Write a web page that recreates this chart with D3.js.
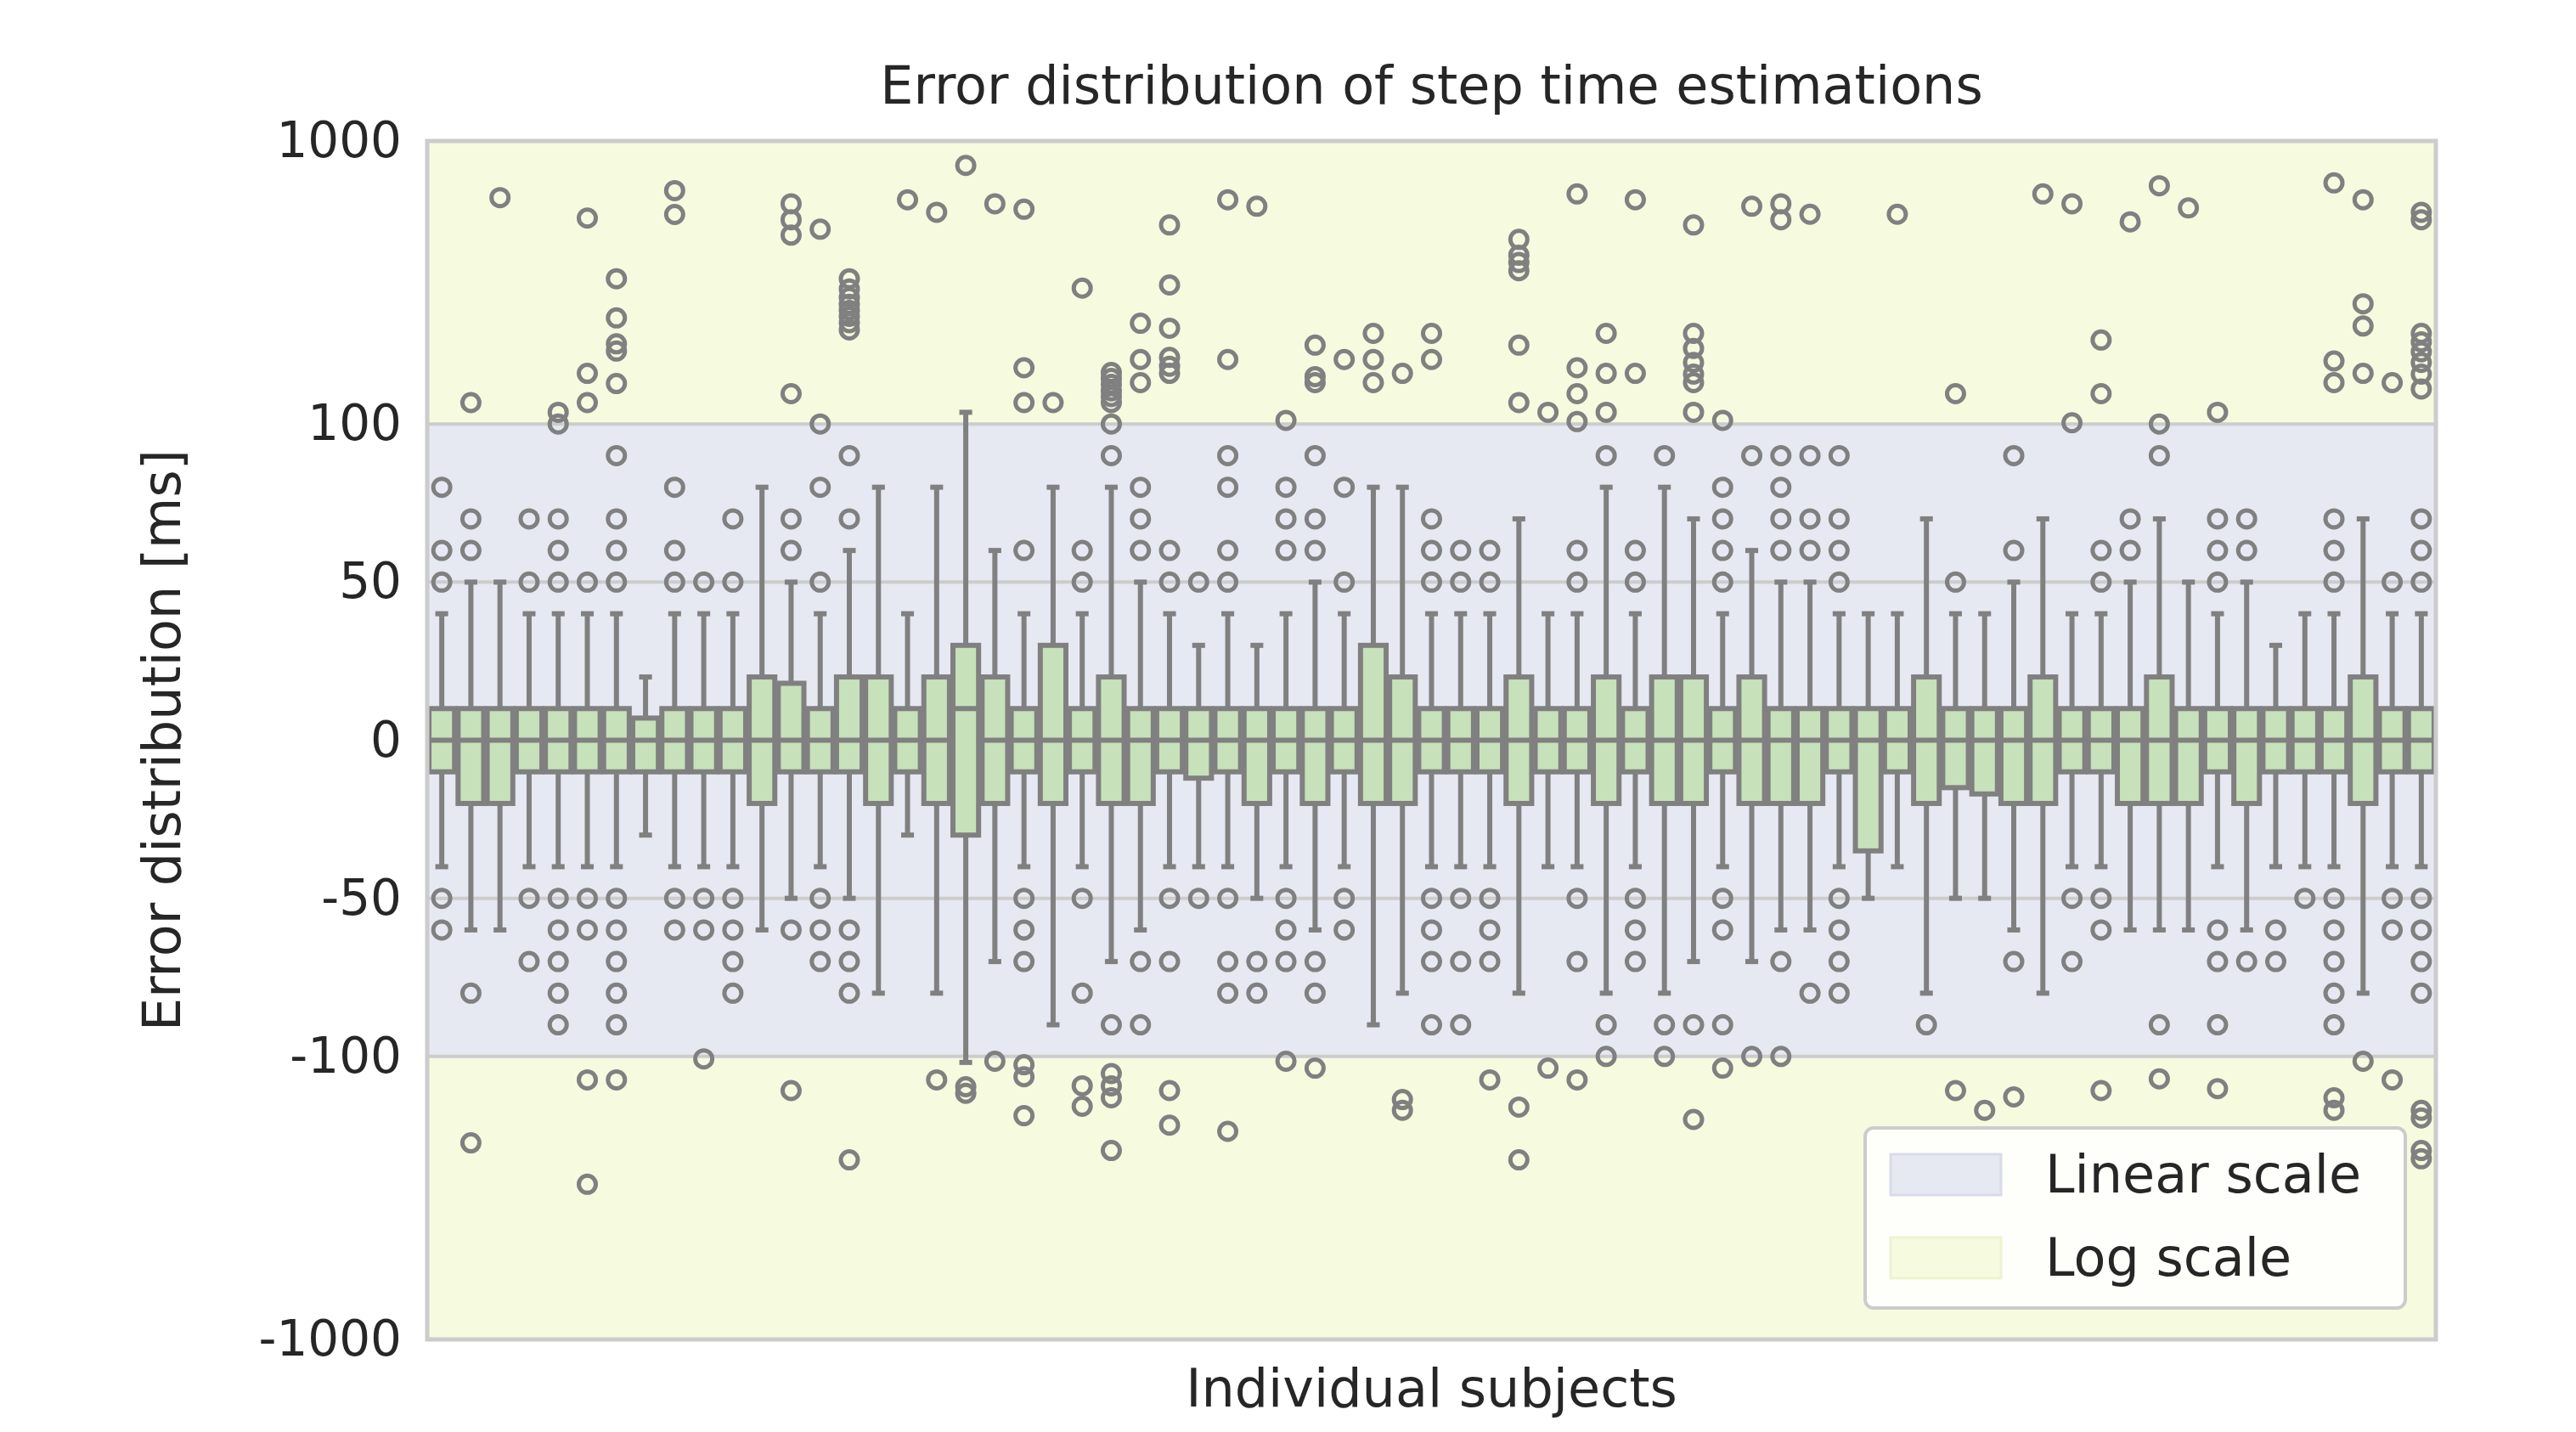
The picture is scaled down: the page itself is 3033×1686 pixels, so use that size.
<!DOCTYPE html>
<html><head><meta charset="utf-8">
<script src="https://cdn.jsdelivr.net/npm/d3@7"></script>
<style>body{margin:0;background:#fff}svg{font-family:"DejaVu Sans",sans-serif}</style>
</head><body>
<script>
const subjects = d3.range(1, 70).map(i => "S" + i);
const q1  = [-10,-20,-20,-10,-10,-10,-10,-10,-10,-10,-10,-20,-10,-10,-10,-20,-10,-20,-30,-20,-10,-20,-10,-20,-20,-10,-12,-10,-20,-10,-20,-10,-20,-20,-10,-10,-10,-20,-10,-10,-20,-10,-20,-20,-10,-20,-20,-20,-10,-35,-10,-20,-15,-17,-20,-20,-10,-10,-20,-20,-20,-10,-20,-10,-10,-10,-20,-10,-10];
const med = [0,0,0,0,0,0,0,0,0,0,0,0,0,0,0,0,0,0,10,0,0,0,0,0,0,0,0,0,0,0,0,0,0,0,0,0,0,0,0,0,0,0,0,0,0,0,0,0,0,0,0,0,0,0,0,0,0,0,0,0,0,0,0,0,0,0,0,0,0];
const q3  = [10,10,10,10,10,10,10,7,10,10,10,20,18,10,20,20,10,20,30,20,10,30,10,20,10,10,10,10,10,10,10,10,30,20,10,10,10,20,10,10,20,10,20,20,10,20,10,10,10,10,10,20,10,10,10,20,10,10,10,20,10,10,10,10,10,10,20,10,10];
const wlo = [-40,-60,-60,-40,-40,-40,-40,-30,-40,-40,-40,-60,-50,-40,-50,-80,-30,-80,-105,-70,-40,-90,-40,-70,-60,-40,-40,-40,-50,-40,-60,-40,-90,-80,-40,-40,-40,-80,-40,-40,-80,-40,-80,-70,-40,-70,-60,-60,-40,-50,-40,-80,-50,-50,-60,-80,-40,-40,-60,-60,-60,-40,-60,-40,-40,-40,-80,-40,-40];
const whi = [40,50,50,40,40,40,40,20,40,40,40,80,50,40,60,80,40,80,110,60,40,80,40,80,50,40,30,40,30,40,50,40,80,80,40,40,40,70,40,40,80,40,80,70,40,60,50,50,40,40,40,70,40,40,50,70,40,40,50,70,50,40,50,30,40,40,70,40,40];
const outliers = [
 [50,60,80,-50,-60],
 [60,70,119,-80,-202],
 [631],
 [50,70,-50,-70],
 [50,60,70,100,110,-50,-60,-70,-80,-90],
 [50,119,151,534,-50,-60,-121,-283],
 [50,60,70,90,139,181,192,237,326,-50,-60,-70,-80,-90,-121],
 [],
 [50,60,80,550,668,-50,-60],
 [50,-50,-60,-102],
 [50,70,-50,-60,-70,-80],
 [],
 [60,70,128,465,527,600,-60,-132],
 [50,80,100,488,-50,-60,-70],
 [70,90,215,228,240,252,265,280,300,326,-60,-70,-80,-232],
 [],
 [620],
 [560,-121],
 [820,-128,-135],
 [600,-104],
 [60,119,158,574,-50,-60,-70,-107,-118,-162],
 [119],
 [50,60,302,-50,-80,-127,-150],
 [90,100,119,125,131,138,145,152,-90,-115,-127,-140,-215],
 [60,70,80,140,169,227,-70,-90],
 [50,60,151,160,172,218,310,505,-50,-70,-132,-175],
 [50,-50],
 [50,60,80,90,169,620,-50,-70,-80,-184],
 [588,-70,-80],
 [60,70,80,103,-50,-60,-70,-104],
 [60,70,90,140,147,190,-70,-80,-110],
 [50,80,169,-50,-60],
 [140,169,209],
 [151,-142,-155],
 [50,60,70,169,209,-50,-60,-70,-90],
 [50,60,-50,-70,-90],
 [50,60,-50,-60,-70,-121],
 [119,190,348,372,395,449,-151,-232],
 [110,-110],
 [50,60,102,128,158,650,-50,-70,-121],
 [90,110,151,209,-90,-100],
 [50,60,151,620,-50,-60,-70],
 [90,-90,-100],
 [110,140,150,165,185,209,505,-90,-167],
 [50,60,70,80,103,-50,-60,-90,-110],
 [90,588,-100],
 [60,70,80,90,527,600,-70,-100],
 [60,70,90,551,-80],
 [50,60,70,90,-50,-60,-70,-80],
 [],
 [551],
 [-90],
 [50,128,-132],
 [-155],
 [60,90,-70,-139],
 [650],
 [101,600,-50,-70],
 [50,60,128,198,-50,-60,-132],
 [60,70,518],
 [90,100,695,-90,-120],
 [580],
 [50,60,70,110,-60,-70,-90,-130],
 [60,70,-70],
 [-60,-70],
 [-50],
 [50,60,70,140,167,711,-50,-60,-70,-80,-90,-140,-155],
 [151,222,266,620,-104],
 [50,140,-50,-60,-121],
 [50,60,70,133,150,165,180,195,209,527,560,-50,-60,-70,-80,-155,-165,-215,-230]
];
const yTicks = [1000,100,50,0,-50,-100,-1000];
const legendLabels = ["Linear scale","Log scale"];

// symmetric scale: linear within ±100, log beyond
const DEC = 89.5;
const tf = v => Math.abs(v) <= 100 ? v : Math.sign(v) * (100 + DEC * Math.log10(Math.abs(v) / 100));
const W = 3033, H = 1686;
const L = 503, R = 2868, T = 166, B = 1577;
const yLin = d3.scaleLinear().domain([tf(-1000), tf(1000)]).range([B, T]);
const y = v => yLin(tf(v));
const x = d3.scaleBand().domain(subjects).range([L, R]).paddingInner(0.12).paddingOuter(0.06);

const svg = d3.select("body").append("svg").attr("width", W).attr("height", H);
const grey = "#808080";
// bands
svg.append("rect").attr("x", L).attr("y", T).attr("width", R - L).attr("height", B - T).attr("fill", "#f6fadf");
svg.append("rect").attr("x", L).attr("y", y(100)).attr("width", R - L).attr("height", y(-100) - y(100)).attr("fill", "#e6e8f2");
// grid
[100, 50, 0, -50, -100].forEach(v => svg.append("line").attr("x1", L).attr("x2", R).attr("y1", y(v)).attr("y2", y(v)).attr("stroke", "#cccccc").attr("stroke-width", 4));
// y axis
const ax = svg.append("g").attr("transform", `translate(${L},0)`)
  .call(d3.axisLeft(yLin).tickValues(yTicks.map(tf)).tickFormat((d, i) => yTicks[i]).tickSize(0).tickPadding(30));
ax.select(".domain").remove();
ax.selectAll("text").attr("font-size", 58).attr("fill", "#262626").attr("font-family", "DejaVu Sans");

const g = svg.append("g");
subjects.forEach((s, i) => {
  const cx = x(s) + x.bandwidth() / 2, bw = x.bandwidth();
  const sw = 6;
  g.append("line").attr("x1", cx).attr("x2", cx).attr("y1", y(q3[i])).attr("y2", y(whi[i])).attr("stroke", grey).attr("stroke-width", sw);
  g.append("line").attr("x1", cx).attr("x2", cx).attr("y1", y(q1[i])).attr("y2", y(wlo[i])).attr("stroke", grey).attr("stroke-width", sw);
  [whi[i], wlo[i]].forEach(v => g.append("line").attr("x1", cx - bw / 4).attr("x2", cx + bw / 4).attr("y1", y(v)).attr("y2", y(v)).attr("stroke", grey).attr("stroke-width", sw));
  g.append("rect").attr("x", x(s)).attr("width", bw).attr("y", y(q3[i])).attr("height", y(q1[i]) - y(q3[i]))
    .attr("fill", "#c7e1bb").attr("stroke", grey).attr("stroke-width", sw);
  g.append("line").attr("x1", x(s)).attr("x2", x(s) + bw).attr("y1", y(med[i])).attr("y2", y(med[i])).attr("stroke", grey).attr("stroke-width", sw);
  outliers[i].forEach(v => g.append("circle").attr("cx", cx).attr("cy", y(v)).attr("r", 10).attr("fill", "none").attr("stroke", grey).attr("stroke-width", 5));
});
// border
svg.append("rect").attr("x", L).attr("y", T).attr("width", R - L).attr("height", B - T).attr("fill", "none").attr("stroke", "#cccccc").attr("stroke-width", 5);

// title and labels
svg.append("text").attr("x", (L + R) / 2).attr("y", 122).attr("text-anchor", "middle").attr("font-size", 62).attr("fill", "#262626").text("Error distribution of step time estimations");
svg.append("text").attr("x", (L + R) / 2).attr("y", 1656).attr("text-anchor", "middle").attr("font-size", 62).attr("fill", "#262626").text("Individual subjects");
svg.append("text").attr("transform", `translate(212,${(T + B) / 2}) rotate(-90)`).attr("text-anchor", "middle").attr("font-size", 62).attr("fill", "#262626").text("Error distribution [ms]");

// legend
const lg = svg.append("g");
lg.append("rect").attr("x", 2196).attr("y", 1328).attr("width", 636).attr("height", 212).attr("rx", 10).attr("fill", "#ffffff").attr("fill-opacity", 0.85).attr("stroke", "#cccccc").attr("stroke-width", 4);
const legCols = ["#e6e8f2", "#f6fadf"];
legendLabels.forEach((t, k) => {
  const yy = 1383 + k * 98;
  lg.append("rect").attr("x", 2226).attr("y", yy - 24).attr("width", 130).attr("height", 48).attr("fill", legCols[k]).attr("stroke", k ? "#eef3cf" : "#d8dbe8").attr("stroke-width", 3);
  lg.append("text").attr("x", 2408).attr("y", yy + 21).attr("font-size", 62).attr("fill", "#262626").text(t);
});
</script>
</body></html>
